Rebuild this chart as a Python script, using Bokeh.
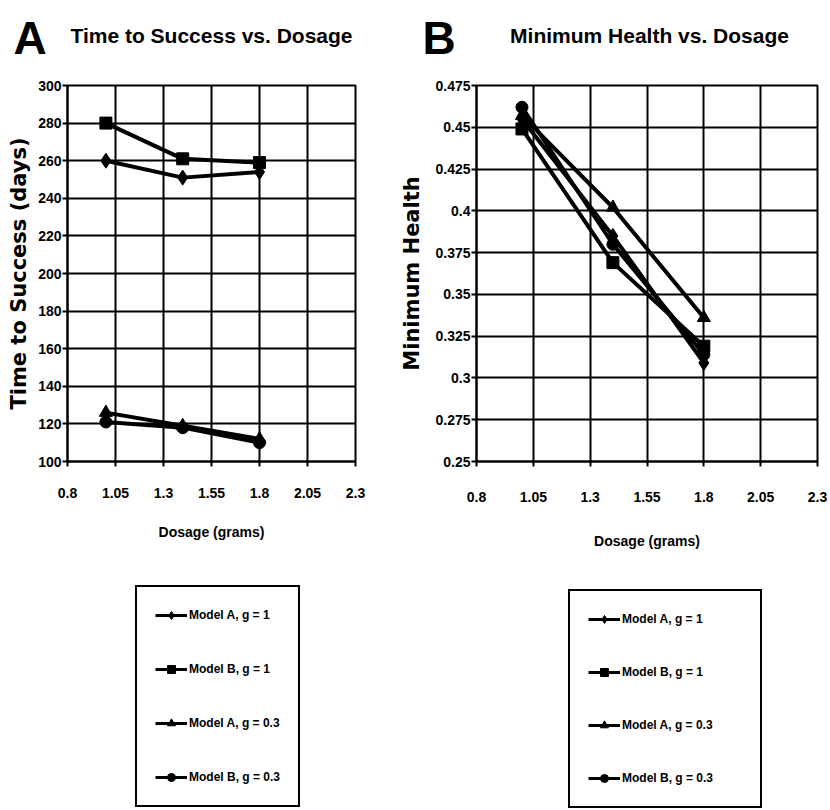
from bokeh.plotting import figure
from bokeh.layouts import row, column
from bokeh.models import Range1d, FixedTicker, Label, Legend, LegendItem, ColumnDataSource
from bokeh.embed import file_html
from bokeh.resources import INLINE

# ---------------- data ----------------
dosage = [1.0, 1.4, 1.8]
series_names = ["Model A, g = 1", "Model B, g = 1", "Model A, g = 0.3", "Model B, g = 0.3"]
series_markers = ["diamond", "square", "triangle", "circle"]

time_model_a_g1 = [260, 251, 254]
time_model_b_g1 = [280, 261, 259]
time_model_a_g03 = [126, 119, 112]
time_model_b_g03 = [121, 118, 110]

health_model_a_g1 = [0.455, 0.385, 0.309]
health_model_b_g1 = [0.449, 0.369, 0.319]
health_model_a_g03 = [0.457, 0.402, 0.336]
health_model_b_g03 = [0.462, 0.380, 0.314]

x_ticks = [0.8, 1.05, 1.3, 1.55, 1.8, 2.05, 2.3]
x_tick_labels = ["0.8", "1.05", "1.3", "1.55", "1.8", "2.05", "2.3"]
time_ticks = [100, 120, 140, 160, 180, 200, 220, 240, 260, 280, 300]
time_tick_labels = ["100", "120", "140", "160", "180", "200", "220", "240", "260", "280", "300"]
health_ticks = [0.25, 0.275, 0.3, 0.325, 0.35, 0.375, 0.4, 0.425, 0.45, 0.475]
health_tick_labels = ["0.25", "0.275", "0.3", "0.325", "0.35", "0.375", "0.4", "0.425", "0.45", "0.475"]

NARROW = "Liberation Sans"
WIDE = "DejaVu Sans"
marker_sizes = {"diamond": 15, "square": 12, "triangle": 13, "circle": 12}


def make_header(width, height, letter, letter_xy, title_text, title_xy):
    h = figure(width=width, height=height, x_range=Range1d(0, 1), y_range=Range1d(0, 1),
               output_backend="svg", toolbar_location=None,
               x_axis_location=None, y_axis_location=None, min_border=0)
    h.outline_line_color = None
    h.grid.visible = False
    h.add_layout(Label(x=letter_xy[0], y=letter_xy[1], x_units="screen", y_units="screen",
                       text=letter, text_font=NARROW, text_font_style="bold",
                       text_font_size="46px", text_color="black", text_baseline="middle"))
    h.add_layout(Label(x=title_xy[0], y=title_xy[1], x_units="screen", y_units="screen",
                       text=title_text, text_font=NARROW, text_font_style="bold",
                       text_font_size="21px", text_color="black", text_align="center",
                       text_baseline="middle"))
    return h


def make_panel(width, height, borders, y_label, y_range, y_ticks, y_tick_labels, series,
               x_lab_standoff, x_tick_standoff, y_lab_standoff):
    left, right, top, bottom = borders
    p = figure(width=width, height=height, x_range=Range1d(0.8, 2.3), y_range=Range1d(*y_range),
               output_backend="svg", toolbar_location=None,
               min_border_left=left, min_border_right=right,
               min_border_top=top, min_border_bottom=bottom)

    p.xaxis.ticker = FixedTicker(ticks=x_ticks)
    p.xaxis.major_label_overrides = dict(zip(x_ticks, x_tick_labels))
    p.yaxis.ticker = FixedTicker(ticks=y_ticks)
    p.yaxis.major_label_overrides = dict(zip(y_ticks, y_tick_labels))

    for ax in p.axis:
        ax.axis_line_color = "black"
        ax.axis_line_width = 2
        ax.major_tick_line_color = "black"
        ax.major_tick_line_width = 2
        ax.major_tick_in = 0
        ax.major_tick_out = 5
        ax.minor_tick_in = 0
        ax.minor_tick_out = 0
        ax.major_label_text_font = NARROW
        ax.major_label_text_font_style = "bold"
        ax.major_label_text_font_size = "14px"
        ax.major_label_text_color = "black"
    p.xaxis.major_label_standoff = x_tick_standoff
    p.yaxis.major_label_standoff = 1

    p.xaxis.axis_label = "Dosage (grams)"
    p.xaxis.axis_label_text_font = NARROW
    p.xaxis.axis_label_text_font_style = "bold"
    p.xaxis.axis_label_text_font_size = "14px"
    p.xaxis.axis_label_text_color = "black"
    p.xaxis.axis_label_standoff = x_lab_standoff

    p.yaxis.axis_label = y_label
    p.yaxis.axis_label_text_font = WIDE
    p.yaxis.axis_label_text_font_style = "bold"
    p.yaxis.axis_label_text_font_size = "21px"
    p.yaxis.axis_label_text_color = "black"
    p.yaxis.axis_label_standoff = y_lab_standoff

    p.grid.grid_line_color = "black"
    p.grid.grid_line_width = 2
    p.grid.grid_line_alpha = 1.0
    p.outline_line_color = "black"
    p.outline_line_width = 2
    p.outline_line_alpha = 1.0

    sources = []
    for values, marker in zip(series, series_markers):
        src = ColumnDataSource(data=dict(x=dosage, y=values))
        p.line("x", "y", source=src, line_color="black", line_width=4)
        p.scatter("x", "y", source=src, marker=marker, size=marker_sizes[marker],
                  fill_color="black", line_color="black")
        sources.append(src)
    return p, sources


def make_legend_fig(width, height, sources, loc, padding, spacing, label_width):
    f = figure(width=width, height=height, x_range=Range1d(0, 1), y_range=Range1d(0, 1),
               output_backend="svg", toolbar_location=None,
               x_axis_location=None, y_axis_location=None, min_border=0)
    f.outline_line_color = None
    f.grid.visible = False
    items = []
    for src, marker, name in zip(sources, series_markers, series_names):
        lr = f.line("x", "y", source=src, line_color="black", line_width=3, visible=False)
        sr = f.scatter("x", "y", source=src, marker=marker, size=marker_sizes[marker] - 1,
                       fill_color="black", line_color="black", visible=False)
        items.append(LegendItem(label=name, renderers=[lr, sr]))
    leg = Legend(items=items, location=loc, margin=0, padding=padding, spacing=spacing,
                 label_height=20, glyph_height=20, glyph_width=32, label_standoff=2,
                 label_width=label_width,
                 label_text_font=NARROW, label_text_font_style="bold",
                 label_text_font_size="12px", label_text_color="black",
                 border_line_color="black", border_line_width=2, border_line_alpha=1.0,
                 background_fill_color="white", background_fill_alpha=1.0)
    f.add_layout(leg)
    return f


hA = make_header(392, 77, "A", (13, 40), "Time to Success vs. Dosage", (211, 42))
hB = make_header(438, 77, "B", (30, 40), "Minimum Health vs. Dosage", (257, 42))

pA, srcA = make_panel(392, 483, (67, 37, 8, 99), "Time to Success (days)", (100, 300),
                      time_ticks, time_tick_labels,
                      [time_model_a_g1, time_model_b_g1, time_model_a_g03, time_model_b_g03],
                      x_lab_standoff=23, x_tick_standoff=21, y_lab_standoff=4)
pB, srcB = make_panel(438, 483, (84, 13, 8, 99), "Minimum Health", (0.25, 0.475),
                      health_ticks, health_tick_labels,
                      [health_model_a_g1, health_model_b_g1, health_model_a_g03, health_model_b_g03],
                      x_lab_standoff=28, x_tick_standoff=25, y_lab_standoff=8)

lA = make_legend_fig(392, 250, srcA, (135, 3), 18, 34, 20)
lB = make_legend_fig(438, 250, srcB, (176, 2), 18, 33, 120)

layout = column(row(hA, hB), row(pA, pB), row(lA, lB))
open("out.html", "w").write(file_html(layout, INLINE, title="Time to Success and Minimum Health vs. Dosage"))
